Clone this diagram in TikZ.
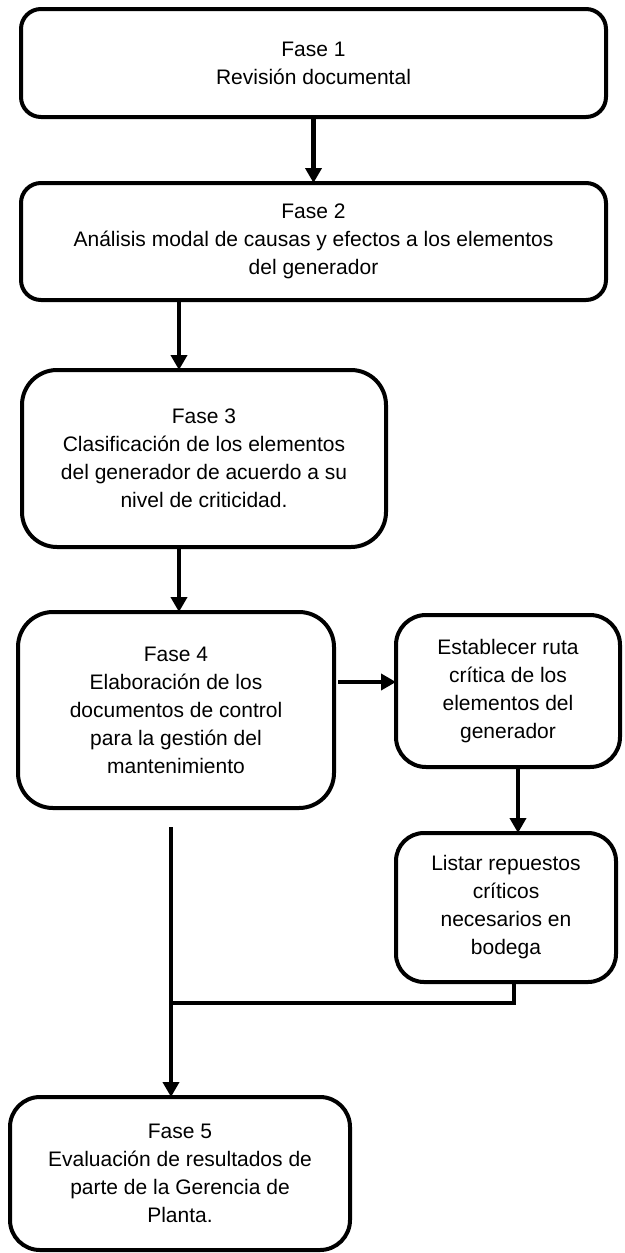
\documentclass[tikz,border=0pt]{standalone}
\usepackage{fontspec}
\setmainfont{Liberation Sans}
\usetikzlibrary{arrows.meta}
\begin{document}
\begin{tikzpicture}[x=1pt,y=-1pt,
  box/.style={draw, line width=4pt, align=center, font=\fontsize{21}{28}\selectfont, inner sep=0pt, outer sep=0pt, fill=white},
  arr/.style={line width=4.5pt, -{Triangle[length=15pt,width=16pt]}},
  link/.style={line width=4.5pt}]
\useasboundingbox (0,0) rectangle (624,1253);
\node[box, rounded corners=20pt, minimum width=585pt, minimum height=108pt] (b1) at (313.5,63) {Fase 1\\Revisión documental};
\node[box, rounded corners=20pt, minimum width=585pt, minimum height=117pt] (b2) at (313.5,241.5) {Fase 2\\Análisis modal de causas y efectos a los elementos\\del generador};
\node[box, rounded corners=35pt, minimum width=364pt, minimum height=177pt] (b3) at (204,458.5) {Fase 3\\Clasificación de los elementos\\del generador de acuerdo a su\\nivel de criticidad.};
\node[box, rounded corners=35pt, minimum width=316pt, minimum height=196pt] (b4) at (176,710) {Fase 4\\Elaboración de los\\documentos de control\\para la gestión del\\mantenimiento};
\node[box, rounded corners=30pt, minimum width=224pt, minimum height=152pt] (bE) at (508,691) {Establecer ruta\\crítica de los\\elementos del\\generador};
\node[box, rounded corners=28pt, minimum width=220pt, minimum height=149pt] (bL) at (506,907.5) {Listar repuestos\\críticos\\necesarios en\\bodega};
\node[box, rounded corners=30pt, minimum width=340pt, minimum height=153pt] (b5) at (180,1173.5) {Fase 5\\Evaluación de resultados de\\parte de la Gerencia de\\Planta.};
\coordinate (colA) at (179,0);
\coordinate (colB) at (518,0);
\coordinate (colD) at (514,0);
\coordinate (rowA) at (0,682);
\coordinate (s5) at (171,827);
\coordinate (j) at (171,1003);
\draw[arr] (b1) -- (b2);
\draw[arr] (b2.south -| colA) -- (b3.north -| colA);
\draw[arr] (b3.south -| colA) -- (b4.north -| colA);
\draw[arr, shorten <=4pt] (b4.east |- rowA) -- (bE.west |- rowA);
\draw[arr] (bE.south -| colB) -- (bL.north -| colB);
\draw[link] (bL.south -| colD) |- (j);
\draw[arr] (s5) -- (b5.north -| s5);
\end{tikzpicture}
\end{document}
